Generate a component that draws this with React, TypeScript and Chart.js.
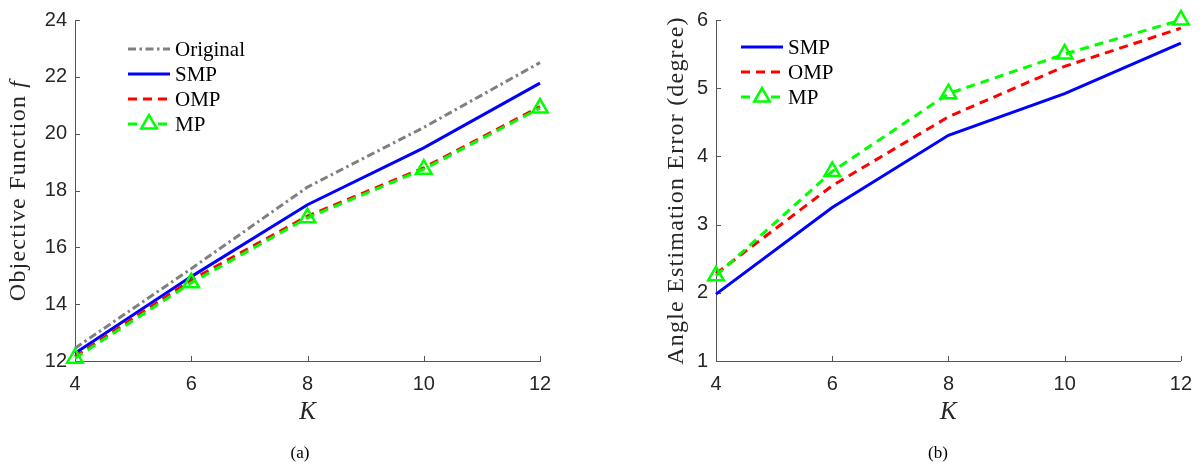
import React, { useEffect, useRef } from 'react';
import { Chart, registerables } from 'chart.js';

Chart.register(...registerables);

// ---------- data ----------
const K = [4, 6, 8, 10, 12];
const kTicks = [4, 6, 8, 10, 12];

const objOriginal = [12.45, 15.25, 18.12, 20.22, 22.5];
const objSMP = [12.27, 14.97, 17.5, 19.5, 21.78];
const objOMP = [12.15, 14.85, 17.1, 18.8, 20.95];
const objMP = [12.1, 14.75, 17.04, 18.75, 20.9];
const objTicks = [12, 14, 16, 18, 20, 22, 24];

const errSMP = [1.98, 3.25, 4.31, 4.92, 5.66];
const errOMP = [2.28, 3.57, 4.58, 5.32, 5.88];
const errMP = [2.25, 3.78, 4.92, 5.5, 6.0];
const errTicks = [1, 2, 3, 4, 5, 6];

const COLORS = { original: '#808080', smp: '#0000ff', omp: '#ff0000', mp: '#00ff00' };
const DASH = [9, 6];
const DASHDOT = [8, 3.5, 2.5, 3.5];

const SERIF = "'Liberation Serif', 'Times New Roman', serif";
const SANS = "'Liberation Sans', Arial, Helvetica, sans-serif";
const AXIS_COLOR = '#555555';
const TEXT_COLOR = '#262626';
const LINE_W = 3;

type Seg = { text: string; italic?: boolean };

const matlabPlugin = {
  id: 'matlabAxes',
  beforeDatasetsDraw(chart: any) {
    const ctx = chart.ctx;
    const { left, bottom } = chart.chartArea;
    const xs = chart.scales.x;
    const ys = chart.scales.y;
    ctx.save();
    ctx.strokeStyle = AXIS_COLOR;
    ctx.lineWidth = 1;
    ctx.setLineDash([]);
    ctx.beginPath();
    xs.ticks.forEach((t: any) => {
      const px = Math.round(xs.getPixelForValue(t.value)) + 0.5;
      ctx.moveTo(px, bottom);
      ctx.lineTo(px, bottom - 5);
    });
    ys.ticks.forEach((t: any) => {
      const py = Math.round(ys.getPixelForValue(t.value)) + 0.5;
      ctx.moveTo(left, py);
      ctx.lineTo(left + 5, py);
    });
    ctx.stroke();
    ctx.restore();
  },
  afterDraw(chart: any, _args: any, opts: any) {
    const ctx = chart.ctx;
    // y title
    if (opts.yTitle) {
      const segs: Seg[] = opts.yTitle;
      const cy = (chart.chartArea.top + chart.chartArea.bottom) / 2;
      ctx.save();
      ctx.translate(opts.yTitleX, cy);
      ctx.rotate(-Math.PI / 2);
      ctx.fillStyle = TEXT_COLOR;
      ctx.textBaseline = 'middle';
      ctx.textAlign = 'left';
      try { (ctx as any).letterSpacing = opts.letterSpacing + 'px'; } catch (e) {}
      const fontFor = (s: Seg) => `${s.italic ? 'italic ' : ''}${opts.yTitleSize}px ${SERIF}`;
      let total = 0;
      segs.forEach((s) => { ctx.font = fontFor(s); total += ctx.measureText(s.text).width; });
      let x = -total / 2;
      segs.forEach((s) => {
        ctx.font = fontFor(s);
        ctx.fillText(s.text, x, 0);
        x += ctx.measureText(s.text).width;
      });
      ctx.restore();
    }
    // legend inside the plot
    const lg = opts.legend;
    if (lg) {
      ctx.save();
      chart.data.datasets.forEach((ds: any, i: number) => {
        const y = lg.y + i * lg.spacing;
        ctx.strokeStyle = ds.borderColor;
        ctx.lineWidth = ds.borderWidth;
        ctx.setLineDash(ds.borderDash || []);
        ctx.beginPath();
        ctx.moveTo(lg.x, y);
        ctx.lineTo(lg.x + lg.len, y);
        ctx.stroke();
        ctx.setLineDash([]);
        if (ds.pointRadius > 0) {
          const r = ds.pointRadius;
          const cx = lg.x + lg.len / 2;
          ctx.fillStyle = '#ffffff';
          ctx.lineWidth = ds.pointBorderWidth;
          ctx.strokeStyle = ds.pointBorderColor;
          ctx.beginPath();
          let rad = 0;
          ctx.moveTo(cx + Math.sin(rad) * r, y - Math.cos(rad) * r);
          rad += (2 * Math.PI) / 3;
          ctx.lineTo(cx + Math.sin(rad) * r, y - Math.cos(rad) * r);
          rad += (2 * Math.PI) / 3;
          ctx.lineTo(cx + Math.sin(rad) * r, y - Math.cos(rad) * r);
          ctx.closePath();
          ctx.fill();
          ctx.stroke();
        }
        ctx.fillStyle = '#000000';
        ctx.font = `${lg.fontSize}px ${SERIF}`;
        ctx.textBaseline = 'middle';
        ctx.textAlign = 'left';
        ctx.fillText(ds.label, lg.x + lg.len + 5, y + 1);
      });
      ctx.restore();
    }
  },
};

function lineDs(label: string, ys: number[], color: string, dash: number[], order: number, marker = false) {
  return {
    label,
    data: K.map((k, i) => ({ x: k, y: ys[i] })),
    borderColor: color,
    backgroundColor: color,
    borderWidth: LINE_W,
    borderDash: dash,
    tension: 0,
    fill: false,
    clip: false as any,
    order,
    pointStyle: 'triangle',
    pointRadius: marker ? 9 : 0,
    pointHoverRadius: marker ? 9 : 0,
    pointBorderWidth: 2.5,
    pointBorderColor: color,
    pointBackgroundColor: 'rgba(0,0,0,0)',
  };
}

function makeConfig(p: {
  datasets: any[];
  yTicks: number[];
  yMin: number;
  yMax: number;
  yWidth: number;
  rightPad: number;
  yTitle: Seg[];
  yTitleX: number;
  legend: any;
}) {
  return {
    type: 'line',
    data: { datasets: p.datasets },
    plugins: [matlabPlugin],
    options: {
      animation: false,
      responsive: false,
      maintainAspectRatio: false,
      events: [],
      layout: { padding: { left: 0, top: 13, right: p.rightPad, bottom: 42 } },
      plugins: {
        legend: { display: false },
        tooltip: { enabled: false },
        title: { display: false },
        matlabAxes: {
          yTitle: p.yTitle,
          yTitleX: p.yTitleX,
          yTitleSize: 24,
          letterSpacing: 1.2,
          legend: p.legend,
        },
      },
      scales: {
        x: {
          type: 'linear',
          min: 4,
          max: 12,
          afterBuildTicks: (s: any) => { s.ticks = kTicks.map((v) => ({ value: v })); },
          afterFit: (s: any) => { s.height = 66; },
          grid: { display: false, drawTicks: false },
          border: { display: true, color: AXIS_COLOR, width: 1 },
          ticks: { color: TEXT_COLOR, font: { family: SANS, size: 20 }, padding: 11, maxRotation: 0 },
          title: {
            display: true,
            text: 'K',
            color: TEXT_COLOR,
            font: { family: SERIF, size: 25, style: 'italic' },
            padding: { top: 0, bottom: 0 },
          },
        },
        y: {
          type: 'linear',
          min: p.yMin,
          max: p.yMax,
          afterBuildTicks: (s: any) => { s.ticks = p.yTicks.map((v) => ({ value: v })); },
          afterFit: (s: any) => { s.width = p.yWidth; },
          grid: { display: false, drawTicks: false },
          border: { display: true, color: AXIS_COLOR, width: 1 },
          ticks: { color: TEXT_COLOR, font: { family: SANS, size: 20 }, padding: 8 },
        },
      },
    },
  };
}

function ChartCanvas({ config, width, height, left }: { config: any; width: number; height: number; left: number }) {
  const ref = useRef<HTMLCanvasElement | null>(null);
  useEffect(() => {
    if (!ref.current) return;
    const chart = new Chart(ref.current, config);
    return () => chart.destroy();
  }, []);
  return (
    <canvas
      ref={ref}
      width={width}
      height={height}
      style={{ position: 'absolute', left, top: 0, width, height }}
    />
  );
}

export default function App() {
  const leftConfig = makeConfig({
    datasets: [
      lineDs('Original', objOriginal, COLORS.original, DASHDOT, 3),
      lineDs('SMP', objSMP, COLORS.smp, [], 2),
      lineDs('OMP', objOMP, COLORS.omp, DASH, 1),
      lineDs('MP', objMP, COLORS.mp, DASH, 0, true),
    ],
    yTicks: objTicks,
    yMin: 12,
    yMax: 24,
    yWidth: 75,
    rightPad: 60,
    yTitle: [{ text: 'Objective Function ' }, { text: 'f', italic: true }],
    yTitleX: 19,
    legend: { x: 128, y: 49, spacing: 25, len: 42, fontSize: 21 },
  });
  const rightConfig = makeConfig({
    datasets: [
      lineDs('SMP', errSMP, COLORS.smp, [], 2),
      lineDs('OMP', errOMP, COLORS.omp, DASH, 1),
      lineDs('MP', errMP, COLORS.mp, DASH, 0, true),
    ],
    yTicks: errTicks,
    yMin: 1,
    yMax: 6,
    yWidth: 116,
    rightPad: 21,
    yTitle: [{ text: 'Angle Estimation Error (degree)' }],
    yTitleX: 77,
    legend: { x: 141, y: 47, spacing: 25, len: 42, fontSize: 21 },
  });
  const caption: React.CSSProperties = {
    position: 'absolute',
    top: 442,
    fontFamily: SERIF,
    fontSize: 17,
    color: '#000',
    lineHeight: '22px',
    transform: 'translateX(-50%)',
    whiteSpace: 'nowrap',
  };
  return (
    <div style={{ position: 'absolute', left: 0, top: 0, width: 1203, height: 469, background: '#fff', overflow: 'hidden' }}>
      <ChartCanvas config={leftConfig} width={600} height={469} left={0} />
      <ChartCanvas config={rightConfig} width={603} height={469} left={600} />
      <div style={{ ...caption, left: 300 }}>(a)</div>
      <div style={{ ...caption, left: 938 }}>(b)</div>
    </div>
  );
}
